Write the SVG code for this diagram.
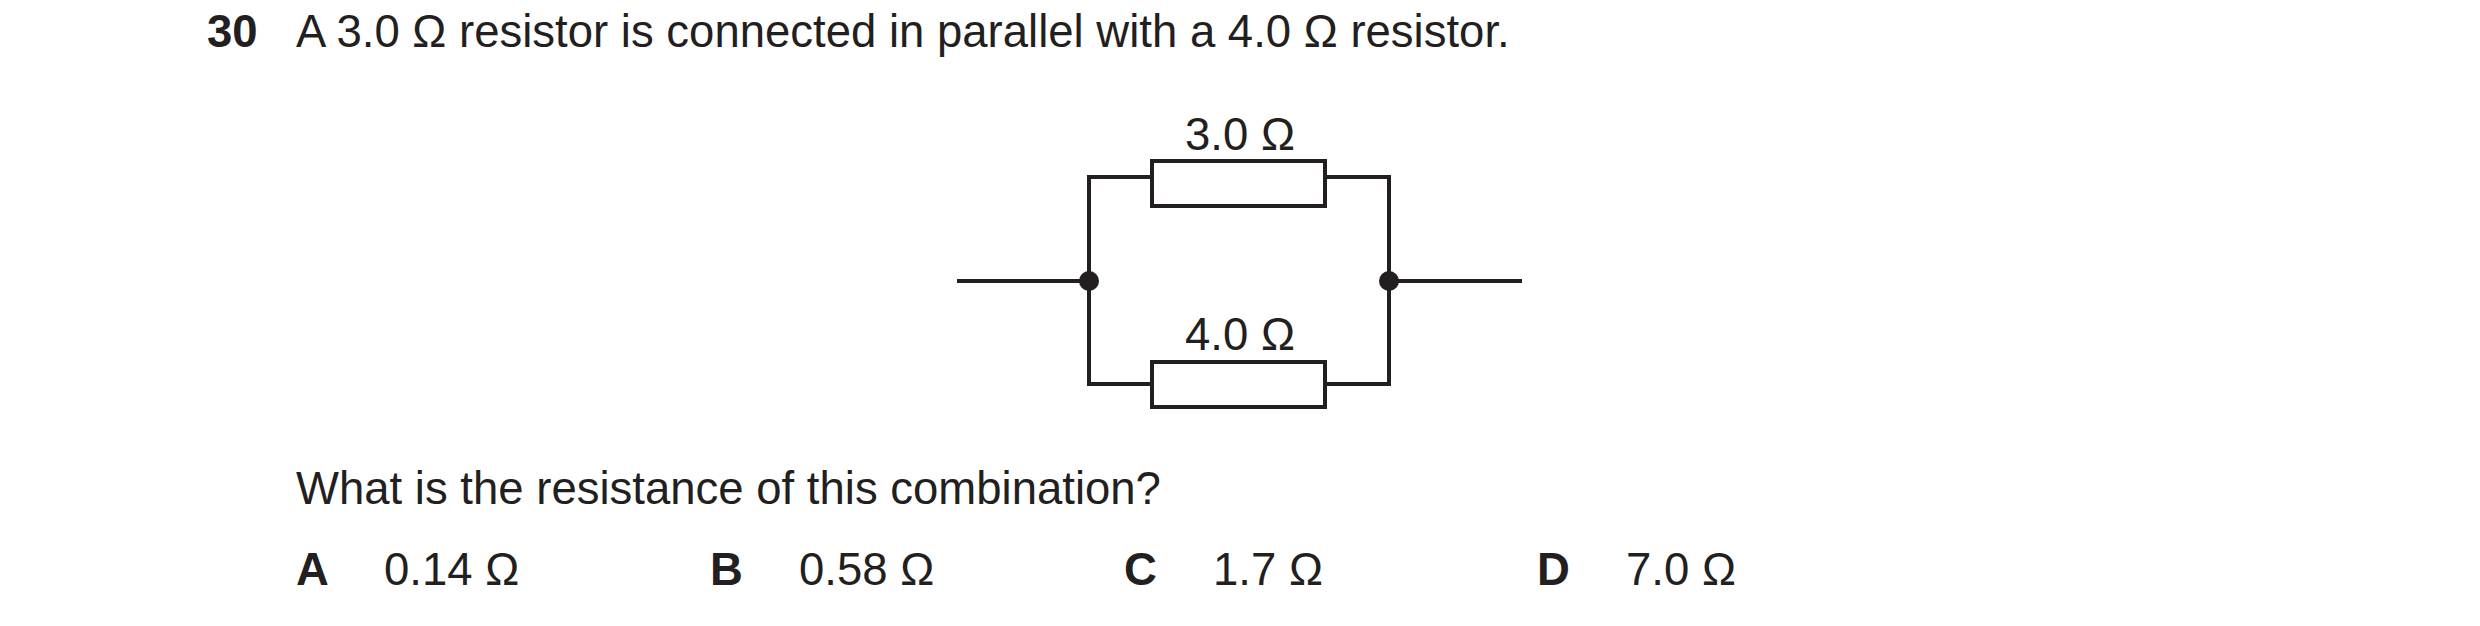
<svg xmlns="http://www.w3.org/2000/svg" width="2480" height="626" viewBox="0 0 2480 626">
<style>
text{font-family:"Liberation Sans",Arial,sans-serif;font-size:45.5px;fill:#231f20}
.b{font-weight:bold}
.w{fill:none;stroke:#231f20;stroke-width:4}
</style>
<rect width="2480" height="626" fill="#fff"/>
<g id="question">
<text x="207" y="47" class="b">30</text>
<text x="296" y="47">A 3.0 Ω resistor is connected in parallel with a 4.0 Ω resistor.</text>
<text x="296" y="504">What is the resistance of this combination?</text>
</g>
<g id="options">
<text x="296" y="585" class="b">A</text><text x="384" y="585">0.14 Ω</text>
<text x="710" y="585" class="b">B</text><text x="799" y="585">0.58 Ω</text>
<text x="1124" y="585" class="b">C</text><text x="1213" y="585">1.7 Ω</text>
<text x="1537" y="585" class="b">D</text><text x="1626" y="585">7.0 Ω</text>
</g>
<g id="connectors">
<path class="w" d="M957 281H1089M1389 281H1522M1089 281V177H1152M1325 177H1389V281M1089 281V384H1152M1325 384H1389V281"/>
</g>
<g id="r1"><rect class="w" x="1152" y="161" width="173" height="45"/><text x="1240" y="150" text-anchor="middle">3.0 Ω</text></g>
<g id="r2"><rect class="w" x="1152" y="362" width="173" height="45"/><text x="1240" y="350" text-anchor="middle">4.0 Ω</text></g>
<g id="j1"><ellipse cx="1089" cy="281" rx="10" ry="10" fill="#231f20"/></g>
<g id="j2"><ellipse cx="1389" cy="281" rx="10" ry="10" fill="#231f20"/></g>
</svg>
